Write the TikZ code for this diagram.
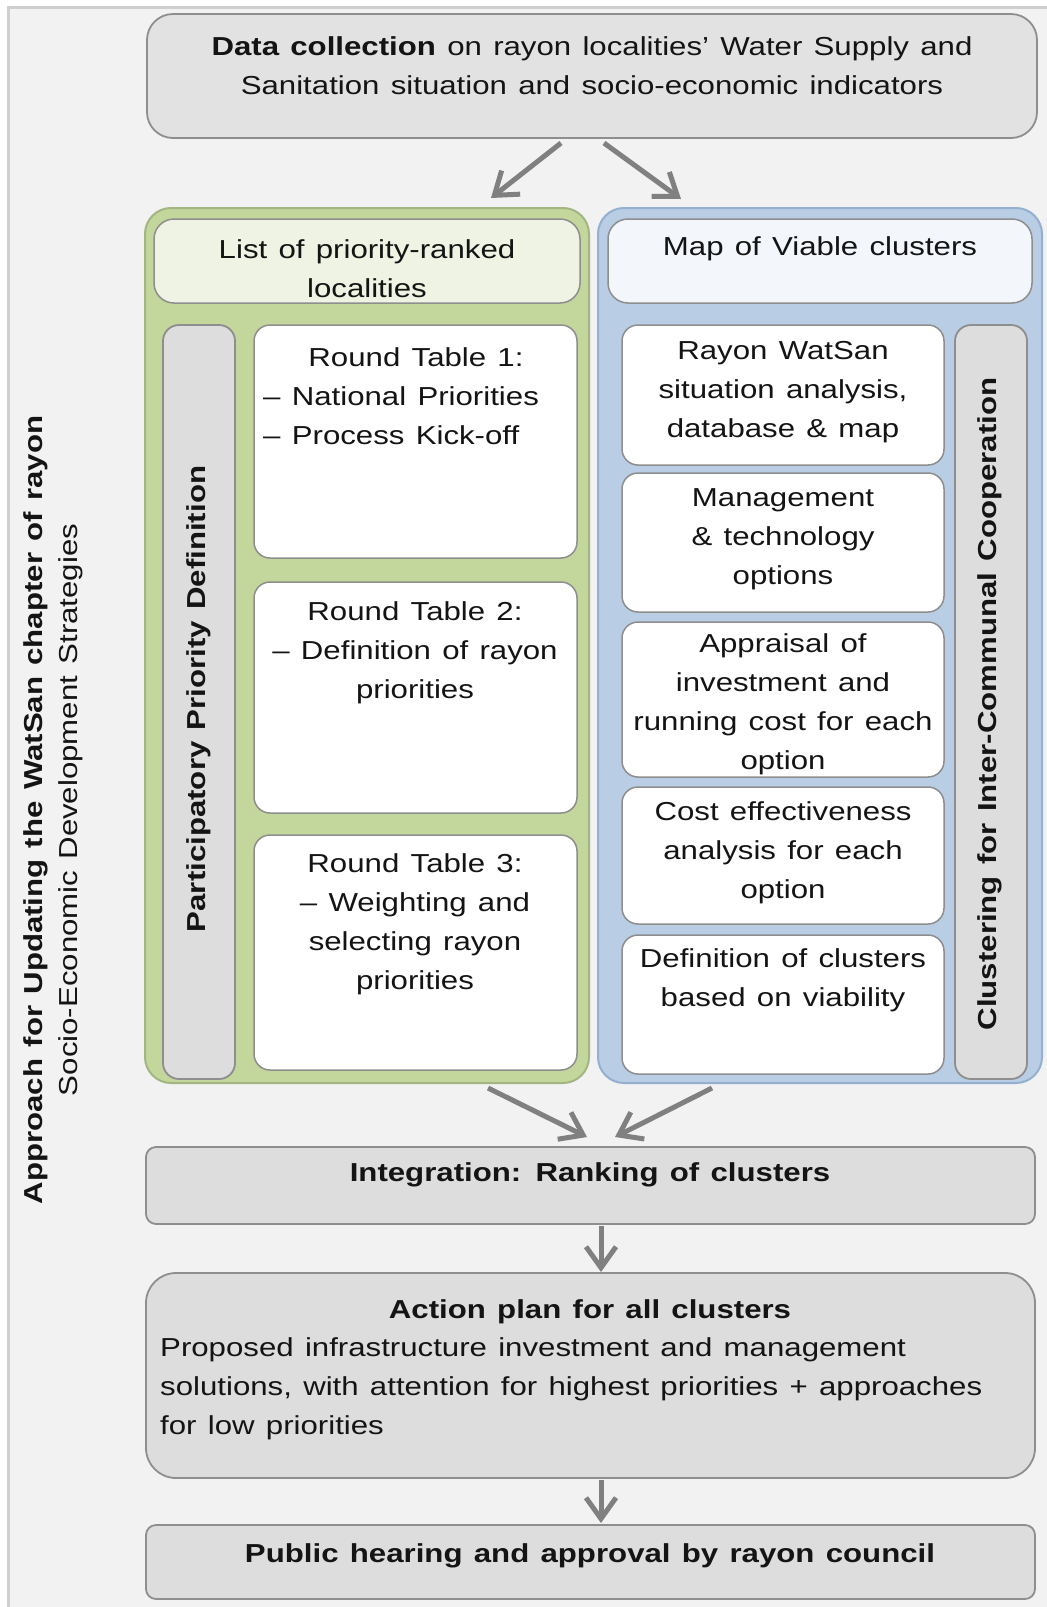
\documentclass[tikz,border=0pt]{standalone}
\usepackage{fontspec}
\setmainfont[FakeStretch=1.2,WordSpace=1.3]{Liberation Sans}
\usetikzlibrary{arrows.meta}
\definecolor{framebg}{HTML}{F2F2F2}
\definecolor{frameline}{HTML}{CFCFCF}
\definecolor{greyfill}{HTML}{DDDDDD}
\definecolor{boxline}{HTML}{8E8E8E}
\definecolor{greenfill}{HTML}{C3D69B}
\definecolor{greenline}{HTML}{A2B582}
\definecolor{listfill}{HTML}{EEF3E4}
\definecolor{bluefill}{HTML}{B9CDE5}
\definecolor{blueline}{HTML}{94AFCF}
\definecolor{mapfill}{HTML}{F3F6FB}
\definecolor{arrowc}{HTML}{808080}
\definecolor{textc}{HTML}{141414}
\tikzset{
  shapebox/.style={rectangle, inner sep=0pt, outer sep=0pt},
  greybox/.style={shapebox, draw=boxline, fill=greyfill, line width=1.8pt},
  whitebox/.style={shapebox, draw=boxline, fill=white, line width=1.5pt, rounded corners=16pt},
  greencont/.style={shapebox, draw=greenline, fill=greenfill, line width=2pt, rounded corners=26pt},
  bluecont/.style={shapebox, draw=blueline, fill=bluefill, line width=2pt, rounded corners=26pt},
  txt/.style={inner sep=0pt, align=center, text=textc, font=\fontsize{26}{39}\selectfont},
  btxt/.style={txt, font=\fontsize{26}{39}\selectfont\bfseries},
  arr/.style={draw=arrowc, line width=5pt, -{Straight Barb[length=21pt,width=30pt]}}
}
\begin{document}
\begin{tikzpicture}[x=1pt,y=-1pt]
\useasboundingbox (0,0) rectangle (1047,1607);
% frame
\fill[framebg] (8,7) rectangle (1047,1607);
\draw[frameline, line width=3pt] (8,1607) -- (8,7) -- (1047,7);

% side labels
\node[btxt, rotate=90] (lab1) at (36,810) {Approach for Updating the WatSan chapter of rayon};
\node[txt, rotate=90] (lab2) at (71,810) {Socio-Economic Development Strategies};

% top box
\node[greybox, rounded corners=26pt, minimum width=890pt, minimum height=124pt, fill=greyfill!85!white] (data) at (592,76) {};
\node[txt] (datat) at (592,66) {\textbf{Data collection} on rayon localities’ Water Supply and\\Sanitation situation and socio-economic indicators};

% containers
\node[greencont, minimum width=444pt, minimum height=875pt] (green) at (367,645.5) {};
\node[bluecont, minimum width=444pt, minimum height=875pt] (blue) at (820,645.5) {};

% headers
\node[shapebox, draw=boxline, fill=listfill, line width=1.5pt, rounded corners=20pt, minimum width=426pt, minimum height=84pt] (list) at (367,261) {};
\node[txt] (listt) at (367,269) {List of priority-ranked\\localities};
\node[shapebox, draw=boxline, fill=mapfill, line width=1.5pt, rounded corners=20pt, minimum width=424pt, minimum height=84pt] (map) at (820,261) {};
\node[txt] (mapt) at (820,249) {Map of Viable clusters};

% grey vertical bars
\node[greybox, rounded corners=16pt, minimum width=72pt, minimum height=754pt] (gbarL) at (199,702) {};
\node[btxt, rotate=90] (gbarLt) at (199,699) {Participatory Priority Definition};
\node[greybox, rounded corners=16pt, minimum width=72pt, minimum height=754pt] (gbarR) at (991,702) {};
\node[btxt, rotate=90] (gbarRt) at (990,704) {Clustering for Inter-Communal Cooperation};

% round tables
\node[whitebox, minimum width=323pt, minimum height=233pt] (rt1) at (415.5,441.5) {};
\node[txt] (rt1t) at (416,357) {Round Table 1:};
\node[txt, align=left, anchor=west] (rt1l) at (263,416) {– National Priorities\\– Process Kick-off};
\node[whitebox, minimum width=323pt, minimum height=231pt] (rt2) at (415.5,697.5) {};
\node[txt] (rt2t) at (415,653) {Round Table 2:\\– Definition of rayon\\priorities};
\node[whitebox, minimum width=323pt, minimum height=235pt] (rt3) at (415.5,952.5) {};
\node[txt] (rt3t) at (415,924) {Round Table 3:\\– Weighting and\\selecting rayon\\priorities};

% right steps
\node[whitebox, minimum width=322pt, minimum height=140pt] (r1) at (783,395) {};
\node[txt] (r1t) at (783,392) {Rayon WatSan\\situation analysis,\\database \& map};
\node[whitebox, minimum width=322pt, minimum height=139pt] (r2) at (783,542.5) {};
\node[txt] (r2t) at (783,539) {Management\\\& technology\\options};
\node[whitebox, minimum width=322pt, minimum height=155pt] (r3) at (783,699.5) {};
\node[txt] (r3t) at (783,704) {Appraisal of\\investment and\\running cost for each\\option};
\node[whitebox, minimum width=322pt, minimum height=137pt] (r4) at (783,855.5) {};
\node[txt] (r4t) at (783,853) {Cost effectiveness\\analysis for each\\option};
\node[whitebox, minimum width=322pt, minimum height=139pt] (r5) at (783,1004.5) {};
\node[txt] (r5t) at (783,980) {Definition of clusters\\based on viability};

% bottom boxes
\node[greybox, rounded corners=10pt, minimum width=889pt, minimum height=77pt] (integ) at (590.5,1185.5) {};
\node[btxt] (integt) at (590,1175) {Integration: Ranking of clusters};
\node[greybox, rounded corners=30pt, minimum width=889pt, minimum height=205pt] (action) at (590.5,1375.5) {};
\node[btxt] (actiont) at (590,1312) {Action plan for all clusters};
\node[txt, align=left, anchor=west] (actionb) at (160,1389) {Proposed infrastructure investment and management\\solutions, with attention for highest priorities + approaches\\for low priorities};
\node[greybox, rounded corners=10pt, minimum width=889pt, minimum height=74pt] (public) at (590.5,1562) {};
\node[btxt] (publict) at (590,1556) {Public hearing and approval by rayon council};

% arrow coordinates
\coordinate (a1s) at (561,143);
\coordinate (a1e) at (491,198);
\coordinate (a2s) at (604,143);
\coordinate (a2e) at (681,199);
\coordinate (a3s) at (488,1088);
\coordinate (a3e) at (587,1137);
\coordinate (a4s) at (712,1088);
\coordinate (a4e) at (615,1137);
\coordinate (a5s) at (601,1226);
\coordinate (a5e) at (601,1272);
\coordinate (a6s) at (601,1480);
\coordinate (a6e) at (601,1523);
\draw[arr] (a1s) -- (a1e);
\draw[arr] (a2s) -- (a2e);
\draw[arr] (a3s) -- (a3e);
\draw[arr] (a4s) -- (a4e);
\draw[arr] (a5s) -- (a5e);
\draw[arr] (a6s) -- (a6e);
\end{tikzpicture}
\end{document}
